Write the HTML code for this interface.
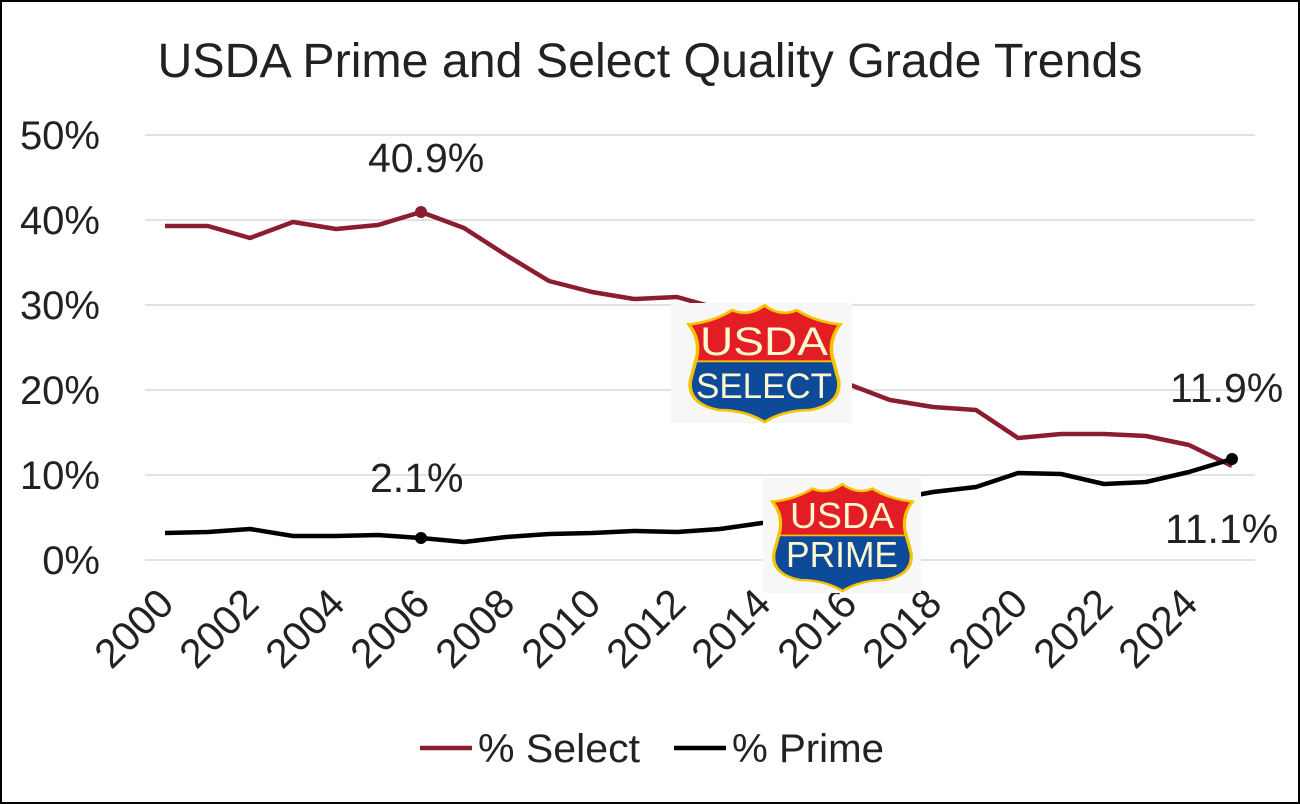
<!DOCTYPE html>
<html><head><meta charset="utf-8"><style>
html,body{margin:0;padding:0;background:#fff}
svg{display:block}
text{font-family:"Liberation Sans",Arial,sans-serif}
</style></head><body>
<svg width="1300" height="804" viewBox="0 0 1300 804" xmlns="http://www.w3.org/2000/svg">
<defs>
<path id="sh" d="M3,18 Q18,16 30,6 Q40,12 50,2 Q60,12 70,6 Q82,16 97,18 Q90,30 92,45 L96,65 Q98,85 78,90 Q62,90 50,100 Q38,90 22,90 Q2,85 4,65 L8,45 Q10,30 3,18 Z"/>
<clipPath id="top"><rect x="0" y="0" width="100" height="49"/></clipPath>
<clipPath id="bot"><rect x="0" y="49" width="100" height="60"/></clipPath>
</defs>
<rect x="1" y="1" width="1298" height="802" fill="#fff" stroke="#000" stroke-width="2"/>
<text x="650" y="77" font-size="48" text-anchor="middle" fill="#222" textLength="985" lengthAdjust="spacingAndGlyphs">USDA Prime and Select Quality Grade Trends</text>
<g stroke="#d9d9d9" stroke-width="1.5">
<line x1="145" y1="560" x2="1255" y2="560"/>
<line x1="145" y1="475" x2="1255" y2="475"/>
<line x1="145" y1="390" x2="1255" y2="390"/>
<line x1="145" y1="305" x2="1255" y2="305"/>
<line x1="145" y1="220" x2="1255" y2="220"/>
<line x1="145" y1="135" x2="1255" y2="135"/>
</g>
<g font-size="40" fill="#222" text-anchor="end">
<text x="100" y="574">0%</text>
<text x="100" y="489">10%</text>
<text x="100" y="404">20%</text>
<text x="100" y="319">30%</text>
<text x="100" y="234">40%</text>
<text x="100" y="149">50%</text>
</g>
<g font-size="41" fill="#222" text-anchor="end">
<text transform="translate(176,606) rotate(-45)">2000</text>
<text transform="translate(261,606) rotate(-45)">2002</text>
<text transform="translate(347,606) rotate(-45)">2004</text>
<text transform="translate(432,606) rotate(-45)">2006</text>
<text transform="translate(517,606) rotate(-45)">2008</text>
<text transform="translate(603,606) rotate(-45)">2010</text>
<text transform="translate(688,606) rotate(-45)">2012</text>
<text transform="translate(773,606) rotate(-45)">2014</text>
<text transform="translate(859,606) rotate(-45)">2016</text>
<text transform="translate(944,606) rotate(-45)">2018</text>
<text transform="translate(1030,606) rotate(-45)">2020</text>
<text transform="translate(1115,606) rotate(-45)">2022</text>
<text transform="translate(1200,606) rotate(-45)">2024</text>
</g>
<polyline fill="none" stroke="#8b1e2e" stroke-width="4.5" stroke-linejoin="round" points="165,226 208,226 250,238 293,222 336,229 378,225 421,212 464,228 506,255 549,281 592,292 634,299 677,297 720,309 762,339 805,369 848,384 890,400 933,407 976,410 1018,438 1061,434 1104,434 1146,436 1189,445 1232,466"/>
<polyline fill="none" stroke="#000" stroke-width="4.5" stroke-linejoin="round" points="165,533 208,532 250,529 293,536 336,536 378,535 421,538 464,542 506,537 549,534 592,533 634,531 677,532 720,529 762,523 805,518 848,509 890,500 933,492 976,487 1018,473 1061,474 1104,484 1146,482 1189,472 1232,459"/>
<circle cx="421" cy="212" r="6" fill="#8b1e2e"/>
<circle cx="421" cy="538" r="6" fill="#000"/>
<circle cx="1232" cy="459" r="6" fill="#000"/>
<g font-size="41" fill="#222">
<text x="368" y="172">40.9%</text>
<text x="370" y="492">2.1%</text>
<text x="1170" y="402">11.9%</text>
<text x="1165" y="543">11.1%</text>
</g>
<rect x="671" y="303" width="181" height="120" fill="#f7f7f7"/>
<g transform="translate(684,303) scale(1.61,1.19)">
<use href="#sh" fill="#e31d24" clip-path="url(#top)"/>
<use href="#sh" fill="#0d4a9a" clip-path="url(#bot)"/>
<use href="#sh" fill="none" stroke="#f5c400" stroke-width="2.2"/>
<line x1="6" y1="49" x2="94" y2="49" stroke="#f5c400" stroke-width="1.5"/>
</g>
<text x="764" y="355" font-size="40" fill="#fff7d0" text-anchor="middle" textLength="128" lengthAdjust="spacingAndGlyphs">USDA</text>
<text x="764" y="398" font-size="35" fill="#fff7d0" text-anchor="middle" textLength="136" lengthAdjust="spacingAndGlyphs">SELECT</text>
<rect x="763" y="478" width="158" height="115" fill="#f7f7f7"/>
<g transform="translate(768,482) scale(1.49,1.09)">
<use href="#sh" fill="#e31d24" clip-path="url(#top)"/>
<use href="#sh" fill="#0d4a9a" clip-path="url(#bot)"/>
<use href="#sh" fill="none" stroke="#f5c400" stroke-width="2.2"/>
<line x1="6" y1="49" x2="94" y2="49" stroke="#f5c400" stroke-width="1.5"/>
</g>
<text x="842" y="528" font-size="36" fill="#fff7d0" text-anchor="middle" textLength="104" lengthAdjust="spacingAndGlyphs">USDA</text>
<text x="842" y="567" font-size="36" fill="#fff7d0" text-anchor="middle" textLength="112" lengthAdjust="spacingAndGlyphs">PRIME</text>
<line x1="420" y1="748" x2="472" y2="748" stroke="#8b1e2e" stroke-width="4.5"/>
<text x="478" y="762" font-size="40" fill="#222" textLength="162" lengthAdjust="spacingAndGlyphs">% Select</text>
<line x1="674" y1="748" x2="726" y2="748" stroke="#000" stroke-width="4.5"/>
<text x="732" y="762" font-size="40" fill="#222" textLength="152" lengthAdjust="spacingAndGlyphs">% Prime</text>
</svg>
</body></html>
